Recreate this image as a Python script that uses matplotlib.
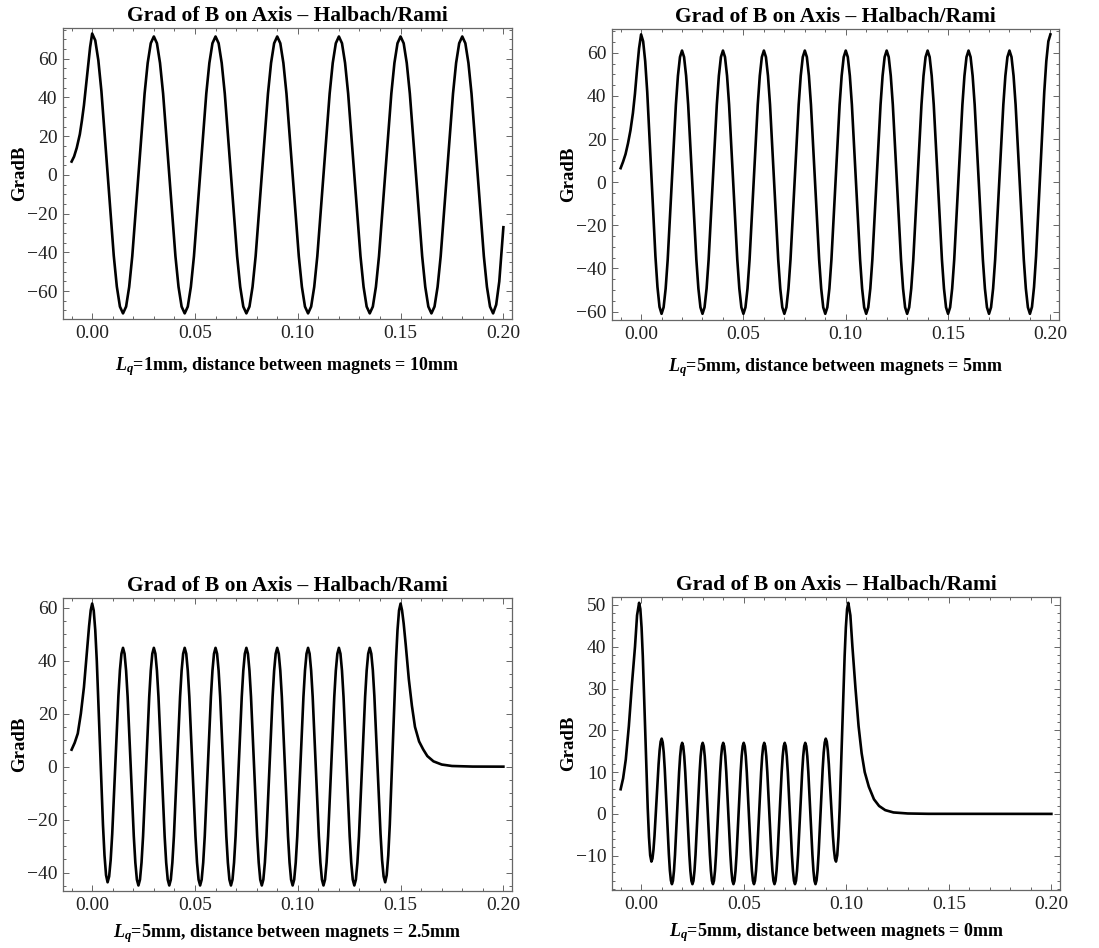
import matplotlib
matplotlib.use("Agg")
import matplotlib.pyplot as plt
from matplotlib.ticker import MultipleLocator, FormatStrFormatter

plt.rcParams["font.family"] = ["Liberation Serif", "DejaVu Serif"]
plt.rcParams["mathtext.fontset"] = "custom"
plt.rcParams["mathtext.rm"] = "Liberation Serif:bold"
plt.rcParams["mathtext.it"] = "Liberation Serif:italic:bold"
plt.rcParams["mathtext.bf"] = "Liberation Serif:bold"

TITLE = "Grad of B on Axis \u2013 Halbach/Rami"
Y_LABEL = "GradB"
X_LABELS = [
    r"$L_q$=1mm, distance between magnets = 10mm",
    r"$L_q$=5mm, distance between magnets = 5mm",
    r"$L_q$=5mm, distance between magnets = 2.5mm",
    r"$L_q$=5mm, distance between magnets = 0mm",
]

# panel 1: Lq=1mm, gap 10mm
P1_X = [
    -0.01, -0.0088, -0.0075, -0.006, -0.005, -0.004, -0.003, -0.002, -0.001, 0.0,
    0.0015, 0.003, 0.0045, 0.0075, 0.0105, 0.012, 0.0135, 0.015,
    0.0165, 0.018, 0.0195, 0.0225, 0.0255, 0.027, 0.0285, 0.03,
    0.0315, 0.033, 0.0345, 0.0375, 0.0405, 0.042, 0.0435, 0.045,
    0.0465, 0.048, 0.0495, 0.0525, 0.0555, 0.057, 0.0585, 0.06,
    0.0615, 0.063, 0.0645, 0.0675, 0.0705, 0.072, 0.0735, 0.075,
    0.0765, 0.078, 0.0795, 0.0825, 0.0855, 0.087, 0.0885, 0.09,
    0.0915, 0.093, 0.0945, 0.0975, 0.1005, 0.102, 0.1035, 0.105,
    0.1065, 0.108, 0.1095, 0.1125, 0.1155, 0.117, 0.1185, 0.12,
    0.1215, 0.123, 0.1245, 0.1275, 0.1305, 0.132, 0.1335, 0.135,
    0.1365, 0.138, 0.1395, 0.1425, 0.1455, 0.147, 0.1485, 0.15,
    0.1515, 0.153, 0.1545, 0.1575, 0.1605, 0.162, 0.1635, 0.165,
    0.1665, 0.168, 0.1695, 0.1725, 0.1755, 0.177, 0.1785, 0.18,
    0.1815, 0.183, 0.1845, 0.1875, 0.1905, 0.192, 0.1935, 0.195,
    0.1965, 0.198, 0.2,
]
P1_Y = [
    6.9, 9.5, 14, 21, 28, 36, 46, 56, 66, 73,
    69.5, 59.2, 43.2, 0.8, -41.7, -57.7, -68.0, -71.5,
    -68.0, -57.8, -42.0, 0.0, 42.0, 57.8, 68.0, 71.5,
    68.0, 57.8, 42.0, 0.0, -42.0, -57.8, -68.0, -71.5,
    -68.0, -57.8, -42.0, 0.0, 42.0, 57.8, 68.0, 71.5,
    68.0, 57.8, 42.0, 0.0, -42.0, -57.8, -68.0, -71.5,
    -68.0, -57.8, -42.0, 0.0, 42.0, 57.8, 68.0, 71.5,
    68.0, 57.8, 42.0, 0.0, -42.0, -57.8, -68.0, -71.5,
    -68.0, -57.8, -42.0, 0.0, 42.0, 57.8, 68.0, 71.5,
    68.0, 57.8, 42.0, 0.0, -42.0, -57.8, -68.0, -71.5,
    -68.0, -57.8, -42.0, 0.0, 42.0, 57.8, 68.0, 71.5,
    68.0, 57.8, 42.0, 0.0, -42.0, -57.8, -68.0, -71.5,
    -68.0, -57.8, -42.0, 0.0, 42.0, 57.8, 68.0, 71.5,
    68.0, 57.8, 42.0, 0.0, -42.0, -57.8, -68.0, -71.5,
    -67.0, -55.0, -27.0,
]

# panel 2: Lq=5mm, gap 5mm
P2_X = [
    -0.01, -0.0088, -0.0076, -0.0064, -0.0052, -0.004, -0.003, -0.002, -0.001, 0.0,
    0.001, 0.002, 0.003, 0.005, 0.007, 0.008, 0.009, 0.01,
    0.011, 0.012, 0.013, 0.015, 0.017, 0.018, 0.019, 0.02,
    0.021, 0.022, 0.023, 0.025, 0.027, 0.028, 0.029, 0.03,
    0.031, 0.032, 0.033, 0.035, 0.037, 0.038, 0.039, 0.04,
    0.041, 0.042, 0.043, 0.045, 0.047, 0.048, 0.049, 0.05,
    0.051, 0.052, 0.053, 0.055, 0.057, 0.058, 0.059, 0.06,
    0.061, 0.062, 0.063, 0.065, 0.067, 0.068, 0.069, 0.07,
    0.071, 0.072, 0.073, 0.075, 0.077, 0.078, 0.079, 0.08,
    0.081, 0.082, 0.083, 0.085, 0.087, 0.088, 0.089, 0.09,
    0.091, 0.092, 0.093, 0.095, 0.097, 0.098, 0.099, 0.1,
    0.101, 0.102, 0.103, 0.105, 0.107, 0.108, 0.109, 0.11,
    0.111, 0.112, 0.113, 0.115, 0.117, 0.118, 0.119, 0.12,
    0.121, 0.122, 0.123, 0.125, 0.127, 0.128, 0.129, 0.13,
    0.131, 0.132, 0.133, 0.135, 0.137, 0.138, 0.139, 0.14,
    0.141, 0.142, 0.143, 0.145, 0.147, 0.148, 0.149, 0.15,
    0.151, 0.152, 0.153, 0.155, 0.157, 0.158, 0.159, 0.16,
    0.161, 0.162, 0.163, 0.165, 0.167, 0.168, 0.169, 0.17,
    0.171, 0.172, 0.173, 0.175, 0.177, 0.178, 0.179, 0.18,
    0.181, 0.182, 0.183, 0.185, 0.187, 0.188, 0.189, 0.19,
    0.191, 0.192, 0.193, 0.195, 0.197, 0.198, 0.199, 0.2,
]
P2_Y = [
    6.5, 9.5, 13, 18, 24, 32, 41, 52, 62, 68.5,
    65.3, 56.1, 41.8, 3.8, -34.3, -48.6, -57.8, -61.0,
    -58.0, -49.3, -35.9, 0.0, 35.9, 49.3, 58.0, 61.0,
    58.0, 49.3, 35.9, 0.0, -35.9, -49.3, -58.0, -61.0,
    -58.0, -49.3, -35.9, 0.0, 35.9, 49.3, 58.0, 61.0,
    58.0, 49.3, 35.9, 0.0, -35.9, -49.3, -58.0, -61.0,
    -58.0, -49.3, -35.9, 0.0, 35.9, 49.3, 58.0, 61.0,
    58.0, 49.3, 35.9, 0.0, -35.9, -49.3, -58.0, -61.0,
    -58.0, -49.3, -35.9, 0.0, 35.9, 49.3, 58.0, 61.0,
    58.0, 49.3, 35.9, 0.0, -35.9, -49.3, -58.0, -61.0,
    -58.0, -49.3, -35.9, 0.0, 35.9, 49.3, 58.0, 61.0,
    58.0, 49.3, 35.9, 0.0, -35.9, -49.3, -58.0, -61.0,
    -58.0, -49.3, -35.9, 0.0, 35.9, 49.3, 58.0, 61.0,
    58.0, 49.3, 35.9, 0.0, -35.9, -49.3, -58.0, -61.0,
    -58.0, -49.3, -35.9, 0.0, 35.9, 49.3, 58.0, 61.0,
    58.0, 49.3, 35.9, 0.0, -35.9, -49.3, -58.0, -61.0,
    -58.0, -49.3, -35.9, 0.0, 35.9, 49.3, 58.0, 61.0,
    58.0, 49.3, 35.9, 0.0, -35.9, -49.3, -58.0, -61.0,
    -58.0, -49.3, -35.9, 0.0, 35.9, 49.3, 58.0, 61.0,
    58.0, 49.3, 35.9, 0.0, -35.9, -49.3, -58.0, -61.0,
    -57.8, -48.6, -34.3, 3.8, 41.8, 56.1, 65.3, 68.5,
]

# panel 3: Lq=5mm, gap 2.5mm
P3_X = [
    -0.01, -0.0085, -0.007, -0.0055, -0.004, -0.0025, -0.0015, -0.0007, 0.0,
    0.00075, 0.0015, 0.00225, 0.00375, 0.00525, 0.006, 0.00675, 0.0075,
    0.00825, 0.009, 0.00975, 0.01125, 0.01275, 0.0135, 0.01425, 0.015,
    0.01575, 0.0165, 0.01725, 0.01875, 0.02025, 0.021, 0.02175, 0.0225,
    0.02325, 0.024, 0.02475, 0.02625, 0.02775, 0.0285, 0.02925, 0.03,
    0.03075, 0.0315, 0.03225, 0.03375, 0.03525, 0.036, 0.03675, 0.0375,
    0.03825, 0.039, 0.03975, 0.04125, 0.04275, 0.0435, 0.04425, 0.045,
    0.04575, 0.0465, 0.04725, 0.04875, 0.05025, 0.051, 0.05175, 0.0525,
    0.05325, 0.054, 0.05475, 0.05625, 0.05775, 0.0585, 0.05925, 0.06,
    0.06075, 0.0615, 0.06225, 0.06375, 0.06525, 0.066, 0.06675, 0.0675,
    0.06825, 0.069, 0.06975, 0.07125, 0.07275, 0.0735, 0.07425, 0.075,
    0.07575, 0.0765, 0.07725, 0.07875, 0.08025, 0.081, 0.08175, 0.0825,
    0.08325, 0.084, 0.08475, 0.08625, 0.08775, 0.0885, 0.08925, 0.09,
    0.09075, 0.0915, 0.09225, 0.09375, 0.09525, 0.096, 0.09675, 0.0975,
    0.09825, 0.099, 0.09975, 0.10125, 0.10275, 0.1035, 0.10425, 0.105,
    0.10575, 0.1065, 0.10725, 0.10875, 0.11025, 0.111, 0.11175, 0.1125,
    0.11325, 0.114, 0.11475, 0.11625, 0.11775, 0.1185, 0.11925, 0.12,
    0.12075, 0.1215, 0.12225, 0.12375, 0.12525, 0.126, 0.12675, 0.1275,
    0.12825, 0.129, 0.12975, 0.13125, 0.13275, 0.1335, 0.13425, 0.135,
    0.13575, 0.1365, 0.13725, 0.13875, 0.14025, 0.141, 0.14175, 0.1425,
    0.14325, 0.144, 0.14475, 0.14625, 0.14775, 0.1485, 0.14925, 0.15,
    0.1507, 0.1515, 0.1525, 0.154, 0.1555, 0.157, 0.159, 0.161, 0.163,
    0.166, 0.17, 0.175, 0.185, 0.2,
]
P3_Y = [
    6.4, 9.0, 12.5, 20, 30, 44, 53, 59, 61.5,
    58.9, 51.5, 39.9, 9.0, -21.9, -33.5, -40.9, -43.6,
    -41.4, -35.2, -25.4, 0.6, 26.6, 36.4, 42.6, 44.8,
    42.6, 36.2, 26.3, 0.0, -26.3, -36.2, -42.6, -44.8,
    -42.6, -36.2, -26.3, 0.0, 26.3, 36.2, 42.6, 44.8,
    42.6, 36.2, 26.3, 0.0, -26.3, -36.2, -42.6, -44.8,
    -42.6, -36.2, -26.3, 0.0, 26.3, 36.2, 42.6, 44.8,
    42.6, 36.2, 26.3, 0.0, -26.3, -36.2, -42.6, -44.8,
    -42.6, -36.2, -26.3, 0.0, 26.3, 36.2, 42.6, 44.8,
    42.6, 36.2, 26.3, 0.0, -26.3, -36.2, -42.6, -44.8,
    -42.6, -36.2, -26.3, 0.0, 26.3, 36.2, 42.6, 44.8,
    42.6, 36.2, 26.3, 0.0, -26.3, -36.2, -42.6, -44.8,
    -42.6, -36.2, -26.3, 0.0, 26.3, 36.2, 42.6, 44.8,
    42.6, 36.2, 26.3, 0.0, -26.3, -36.2, -42.6, -44.8,
    -42.6, -36.2, -26.3, 0.0, 26.3, 36.2, 42.6, 44.8,
    42.6, 36.2, 26.3, 0.0, -26.3, -36.2, -42.6, -44.8,
    -42.6, -36.2, -26.3, 0.0, 26.3, 36.2, 42.6, 44.8,
    42.6, 36.2, 26.3, 0.0, -26.3, -36.2, -42.6, -44.8,
    -42.6, -36.2, -26.3, 0.0, 26.3, 36.2, 42.6, 44.8,
    42.6, 36.4, 26.6, 0.6, -25.4, -35.2, -41.4, -43.6,
    -40.9, -33.5, -21.9, 9.0, 39.9, 51.5, 58.9, 61.5,
    59, 54, 46, 33, 23, 15, 9.5, 6.5, 4.0,
    2.0, 0.8, 0.25, 0.03, 0.0,
]

# panel 4: Lq=5mm, gap 0mm
P4_X = [
    -0.01, -0.0088, -0.0075, -0.006, -0.0045, -0.003, -0.002, -0.001,
    -0.0004, 0.0002, 0.0008, 0.002, 0.0032, 0.0038, 0.0044, 0.005,
    0.0055, 0.006, 0.0065, 0.0075, 0.0085, 0.009, 0.0095, 0.01,
    0.0105, 0.011, 0.0115, 0.0125, 0.0135, 0.014, 0.0145, 0.015,
    0.0155, 0.016, 0.0165, 0.0175, 0.0185, 0.019, 0.0195, 0.02,
    0.0205, 0.021, 0.0215, 0.0225, 0.0235, 0.024, 0.0245, 0.025,
    0.0255, 0.026, 0.0265, 0.0275, 0.0285, 0.029, 0.0295, 0.03,
    0.0305, 0.031, 0.0315, 0.0325, 0.0335, 0.034, 0.0345, 0.035,
    0.0355, 0.036, 0.0365, 0.0375, 0.0385, 0.039, 0.0395, 0.04,
    0.0405, 0.041, 0.0415, 0.0425, 0.0435, 0.044, 0.0445, 0.045,
    0.0455, 0.046, 0.0465, 0.0475, 0.0485, 0.049, 0.0495, 0.05,
    0.0505, 0.051, 0.0515, 0.0525, 0.0535, 0.054, 0.0545, 0.055,
    0.0555, 0.056, 0.0565, 0.0575, 0.0585, 0.059, 0.0595, 0.06,
    0.0605, 0.061, 0.0615, 0.0625, 0.0635, 0.064, 0.0645, 0.065,
    0.0655, 0.066, 0.0665, 0.0675, 0.0685, 0.069, 0.0695, 0.07,
    0.0705, 0.071, 0.0715, 0.0725, 0.0735, 0.074, 0.0745, 0.075,
    0.0755, 0.076, 0.0765, 0.0775, 0.0785, 0.079, 0.0795, 0.08,
    0.0805, 0.081, 0.0815, 0.0825, 0.0835, 0.084, 0.0845, 0.085,
    0.0855, 0.086, 0.0865, 0.0875, 0.0885, 0.089, 0.0895, 0.09,
    0.0905, 0.091, 0.0915, 0.0925, 0.0935, 0.094, 0.0945, 0.095,
    0.0956, 0.0962, 0.0968, 0.098, 0.0992, 0.0998, 0.1004, 0.101,
    0.102, 0.103, 0.1045, 0.106, 0.1075, 0.109, 0.111, 0.1135, 0.116,
    0.119, 0.123, 0.13, 0.14, 0.2,
]
P4_Y = [
    5.9, 8.5, 13, 21, 31, 40, 47.5, 50.5,
    49.0, 44.6, 37.7, 19.6, 1.4, -5.5, -9.9, -11.4,
    -10.7, -8.6, -5.3, 3.3, 11.9, 15.2, 17.3, 18.0,
    17.1, 14.7, 10.8, 0.6, -9.6, -13.5, -15.9, -16.8,
    -16.0, -13.6, -9.8, 0.1, 10.0, 13.8, 16.2, 17.0,
    16.2, 13.8, 10.0, 0.1, -9.8, -13.6, -16.0, -16.8,
    -16.0, -13.6, -9.8, 0.1, 10.0, 13.8, 16.2, 17.0,
    16.2, 13.8, 10.0, 0.1, -9.8, -13.6, -16.0, -16.8,
    -16.0, -13.6, -9.8, 0.1, 10.0, 13.8, 16.2, 17.0,
    16.2, 13.8, 10.0, 0.1, -9.8, -13.6, -16.0, -16.8,
    -16.0, -13.6, -9.8, 0.1, 10.0, 13.8, 16.2, 17.0,
    16.2, 13.8, 10.0, 0.1, -9.8, -13.6, -16.0, -16.8,
    -16.0, -13.6, -9.8, 0.1, 10.0, 13.8, 16.2, 17.0,
    16.2, 13.8, 10.0, 0.1, -9.8, -13.6, -16.0, -16.8,
    -16.0, -13.6, -9.8, 0.1, 10.0, 13.8, 16.2, 17.0,
    16.2, 13.8, 10.0, 0.1, -9.8, -13.6, -16.0, -16.8,
    -16.0, -13.6, -9.8, 0.1, 10.0, 13.8, 16.2, 17.0,
    16.2, 13.8, 10.0, 0.1, -9.8, -13.6, -16.0, -16.8,
    -15.9, -13.5, -9.6, 0.6, 10.8, 14.7, 17.1, 18.0,
    17.3, 15.2, 11.9, 3.3, -5.3, -8.6, -10.7, -11.4,
    -9.9, -5.5, 1.4, 19.6, 37.7, 44.6, 49.0, 50.5,
    47.5, 40, 30, 21, 14.5, 10, 6.5, 3.5, 1.9,
    0.9, 0.35, 0.1, 0.02, 0.0,
]

X_TICKS = [0.0, 0.05, 0.10, 0.15, 0.20]
Y_MAJOR = [20, 20, 20, 10]
Y_MINOR = [5, 5, 5, 2]
Y_LIMS = [(-74.4, 75.9), (-63.9, 71.0), (-46.9, 63.6), (-18.2, 51.9)]
X_LIM = (-0.0142, 0.2042)

BOXES = [
    [0.0573, 0.6635, 0.4086, 0.3070],
    [0.5569, 0.6624, 0.4067, 0.3070],
    [0.0573, 0.0601, 0.4086, 0.3091],
    [0.5569, 0.0612, 0.4076, 0.3091],
]
XLABEL_PADS = [10, 10, 6, 6]

FRAME = "#666666"

fig = plt.figure(figsize=(10.99, 9.48), dpi=100)
series = [(P1_X, P1_Y), (P2_X, P2_Y), (P3_X, P3_Y), (P4_X, P4_Y)]

for i, (xs, ys) in enumerate(series):
    ax = fig.add_axes(BOXES[i])
    ax.plot(xs, ys, color="black", lw=1.9, solid_joinstyle="round")
    ax.set_xlim(*X_LIM)
    ax.set_ylim(*Y_LIMS[i])
    ax.set_xticks(X_TICKS)
    ax.xaxis.set_major_formatter(FormatStrFormatter("%.2f"))
    ax.xaxis.set_minor_locator(MultipleLocator(0.01))
    ax.yaxis.set_major_locator(MultipleLocator(Y_MAJOR[i]))
    ax.yaxis.set_minor_locator(MultipleLocator(Y_MINOR[i]))
    ax.tick_params(which="both", direction="in", top=True, right=True,
                   color=FRAME, width=0.7)
    ax.tick_params(which="major", length=4.5, labelsize=14,
                   labelcolor="#222222", pad=4)
    ax.tick_params(which="minor", length=2.5)
    for sp in ax.spines.values():
        sp.set_color(FRAME)
        sp.set_linewidth(0.9)
    ax.set_title(TITLE, fontsize=15.5, fontweight="bold", pad=5)
    ax.set_ylabel(Y_LABEL, fontsize=13.5, fontweight="bold", labelpad=-1)
    ax.set_xlabel(X_LABELS[i], fontsize=13, fontweight="bold",
                  labelpad=XLABEL_PADS[i])

fig.savefig("out.png", dpi=100)
